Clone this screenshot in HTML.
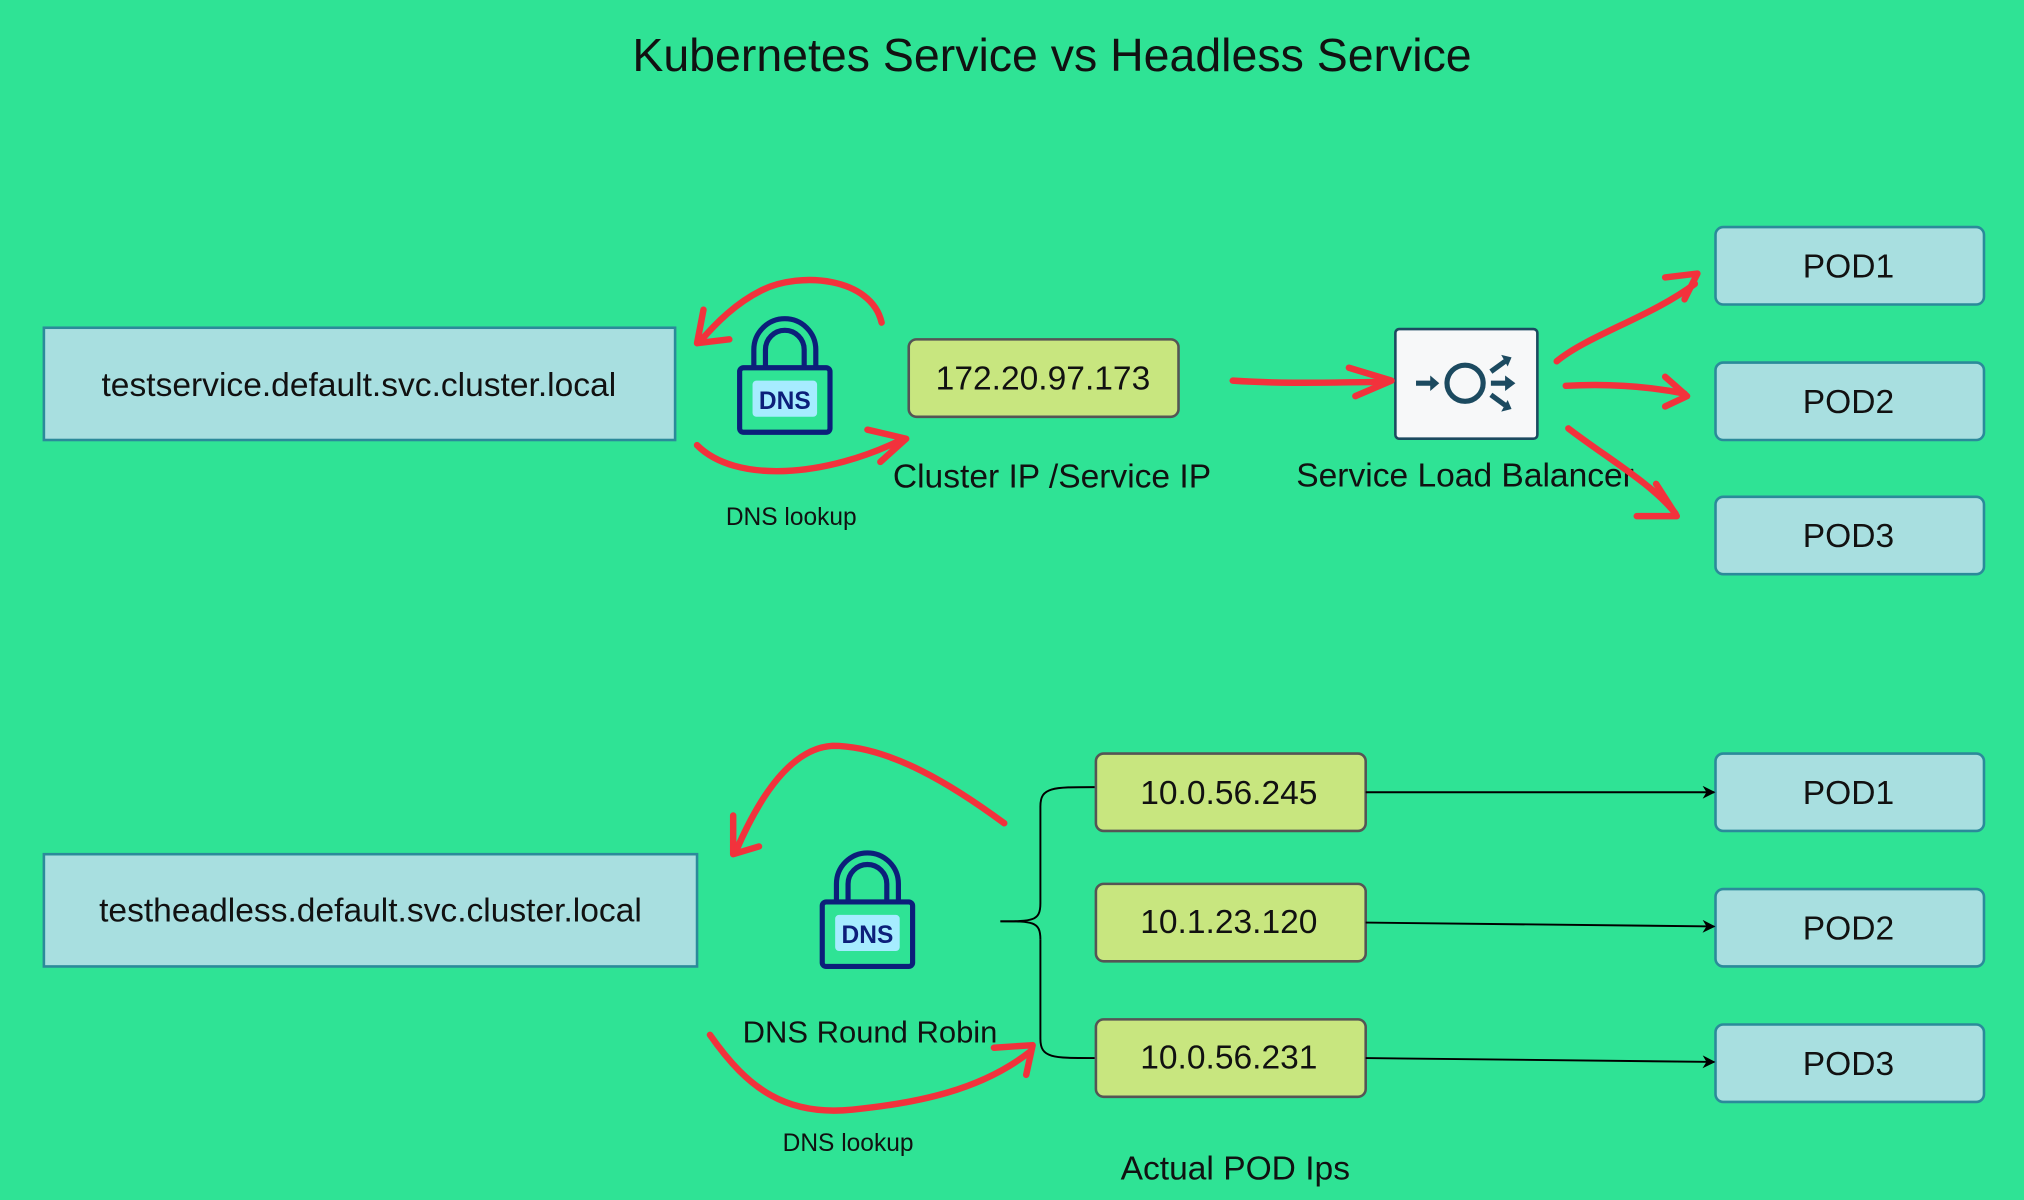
<!DOCTYPE html>
<html><head><meta charset="utf-8"><style>
html,body{margin:0;padding:0;background:#2fe395;}
svg{display:block}
text{font-family:"Liberation Sans",sans-serif;fill:#111}
</style></head><body>
<svg width="2024" height="1200" viewBox="0 0 1568 930" preserveAspectRatio="none" xmlns="http://www.w3.org/2000/svg">
<rect width="1568" height="930" fill="#2fe395"/>
<text x="815" y="55" font-size="36" text-anchor="middle">Kubernetes Service vs Headless Service</text>

<defs>
<marker id="ah" markerWidth="10" markerHeight="10" refX="9" refY="5" orient="auto" markerUnits="userSpaceOnUse"><path d="M0,0 L10,5 L0,10 L3,5 Z" fill="#000"/></marker>
<g id="dns">
<path d="M-24,0 V-14 A24,24 0 0 1 24,-14 V0" fill="none" stroke="#0c1f7a" stroke-width="4"/>
<path d="M-15,0 V-14 A15,15 0 0 1 15,-14 V0" fill="none" stroke="#0c1f7a" stroke-width="4"/>
<rect x="-35" y="0" width="70" height="50" rx="3" fill="#2fe395" stroke="#0c1f7a" stroke-width="4"/>
<rect x="-25" y="10" width="50" height="28" rx="3" fill="#a6ecff"/>
<text x="0" y="32" font-size="19" font-weight="bold" text-anchor="middle" style="fill:#0c1f7a">DNS</text>
</g>
</defs>

<rect x="34" y="254" width="489" height="87" fill="#a8dfe0" stroke="#2b8a9a" stroke-width="2"/>
<text x="278" y="307" font-size="26" text-anchor="middle">testservice.default.svc.cluster.local</text>
<use href="#dns" x="608" y="285"/>
<text x="613" y="407" font-size="19" text-anchor="middle">DNS lookup</text>
<rect x="704" y="263" width="209" height="60" rx="6" fill="#c8e67f" stroke="#555" stroke-width="2"/>
<text x="808" y="302" font-size="26" text-anchor="middle">172.20.97.173</text>
<text x="815" y="378" font-size="26" text-anchor="middle">Cluster IP /Service IP</text>
<rect x="1081" y="255" width="110" height="85" rx="3" fill="#f7f8f9" stroke="#1c4a60" stroke-width="2"/>
<g stroke="#1c4a60" stroke-width="4" fill="none">
<line x1="1097" y1="297" x2="1110" y2="297"/><circle cx="1135" cy="297" r="14"/>
<line x1="1155" y1="288" x2="1166" y2="280"/><line x1="1155" y1="297" x2="1168" y2="297"/><line x1="1155" y1="306" x2="1166" y2="314"/>
</g>
<g fill="#1c4a60">
<path d="M1108,291 L1115,297 L1108,303Z"/>
<path d="M1163,275 L1171,277 L1168,284Z"/>
<path d="M1166,291 L1174,297 L1166,303Z"/>
<path d="M1163,319 L1171,317 L1168,310Z"/>
</g>
<text x="1135" y="377" font-size="26" text-anchor="middle">Service Load Balancer</text>
<g fill="#a8dfe0" stroke="#2b8a9a" stroke-width="2">
<rect x="1329" y="176" width="208" height="60" rx="6"/>
<rect x="1329" y="281" width="208" height="60" rx="6"/>
<rect x="1329" y="385" width="208" height="60" rx="6"/>
<rect x="1329" y="584" width="208" height="60" rx="6"/>
<rect x="1329" y="689" width="208" height="60" rx="6"/>
<rect x="1329" y="794" width="208" height="60" rx="6"/>
</g>
<g font-size="26" text-anchor="middle">
<text x="1432" y="215">POD1</text><text x="1432" y="320">POD2</text><text x="1432" y="424">POD3</text>
<text x="1432" y="623">POD1</text><text x="1432" y="728">POD2</text><text x="1432" y="833">POD3</text>
</g>

<g stroke="#f2323c" stroke-width="5" fill="none" stroke-linecap="round" stroke-linejoin="round">
<path d="M683,250 C675,215 620,210 590,225 C570,235 555,250 542,265"/>
<path d="M545,240 L540,266 L565,263"/>
<path d="M540,345 C570,375 640,370 700,340"/>
<path d="M672,333 L702,340 L682,358"/>
<path d="M955,295 C1000,298 1040,296 1075,296"/>
<path d="M1045,285 L1078,295 L1050,307"/>
<path d="M1206,280 C1230,260 1280,245 1313,220"/>
<path d="M1290,215 L1315,212 L1305,232"/>
<path d="M1213,299 C1250,297 1280,300 1305,305"/>
<path d="M1290,292 L1307,307 L1290,315"/>
<path d="M1215,332 C1245,355 1280,375 1298,398"/>
<path d="M1283,375 L1299,400 L1268,400"/>
</g>

<rect x="34" y="662" width="506" height="87" fill="#a8dfe0" stroke="#2b8a9a" stroke-width="2"/>
<text x="287" y="714" font-size="26" text-anchor="middle">testheadless.default.svc.cluster.local</text>
<use href="#dns" x="672" y="699"/>
<text x="674" y="808" font-size="24" text-anchor="middle">DNS Round Robin</text>
<text x="657" y="892" font-size="19" text-anchor="middle">DNS lookup</text>
<text x="957" y="914" font-size="26" text-anchor="middle">Actual POD Ips</text>
<g fill="#c8e67f" stroke="#555" stroke-width="2">
<rect x="849" y="584" width="209" height="60" rx="6"/>
<rect x="849" y="685" width="209" height="60" rx="6"/>
<rect x="849" y="790" width="209" height="60" rx="6"/>
</g>
<g font-size="26" text-anchor="middle">
<text x="952" y="623">10.0.56.245</text><text x="952" y="723">10.1.23.120</text><text x="952" y="828">10.0.56.231</text>
</g>
<path d="M775,714 C800,714 806,714 806,700 V625 C806,610 815,610 848,610 M806,728 V805 C806,820 815,820 848,820" fill="none" stroke="#000" stroke-width="1.5"/>
<path d="M775,714 C800,714 806,714 806,728" fill="none" stroke="#000" stroke-width="1.5"/>
<g stroke="#000" stroke-width="1.5" marker-end="url(#ah)">
<line x1="1058" y1="614" x2="1328" y2="614"/>
<line x1="1058" y1="715" x2="1328" y2="718"/>
<line x1="1058" y1="820" x2="1328" y2="823"/>
</g>
<g stroke="#f2323c" stroke-width="5" fill="none" stroke-linecap="round" stroke-linejoin="round">
<path d="M778,638 C740,610 690,578 645,578 C610,580 585,625 570,660"/>
<path d="M568,632 L568,662 L588,656"/>
<path d="M550,802 C580,845 610,865 660,860 C710,855 760,845 798,815"/>
<path d="M770,812 L800,810 L795,833"/>
</g>
</svg>
</body></html>
